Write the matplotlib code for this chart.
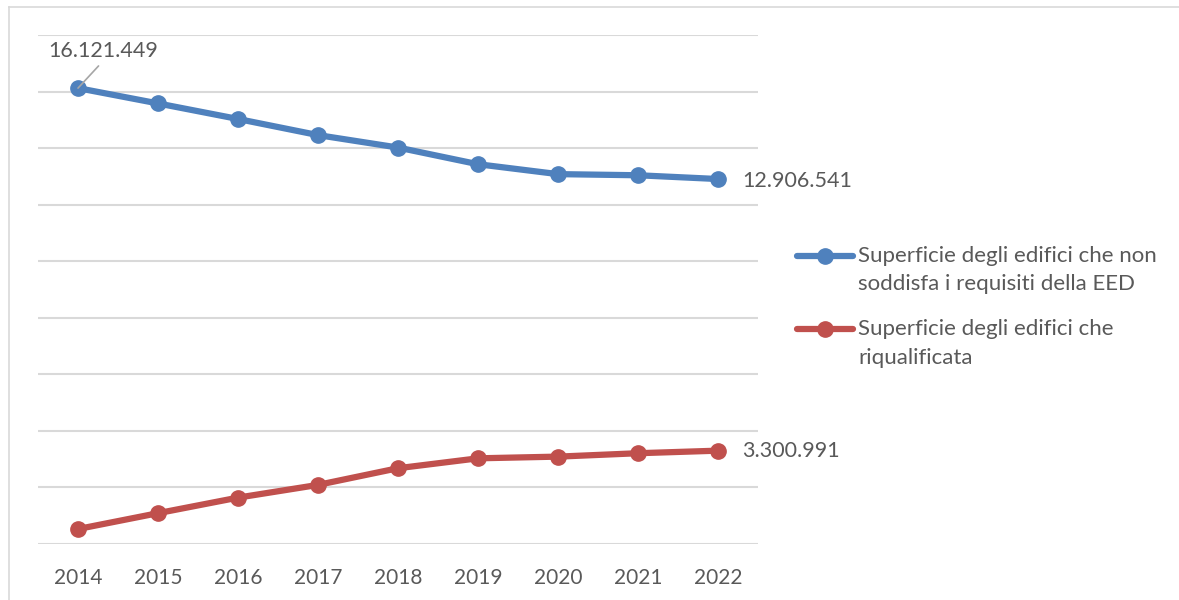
import matplotlib
matplotlib.use("Agg")
import matplotlib.pyplot as plt
from matplotlib.lines import Line2D

plt.rcParams['font.family'] = ['Lato', 'DejaVu Sans']

years = ['2014', '2015', '2016', '2017', '2018', '2019', '2020', '2021', '2022']
non_compliant = [16121449, 15580000, 15030000, 14460000, 14020000, 13430000, 13080000, 13040000, 12906541]
renovated = [530000, 1090000, 1640000, 2090000, 2680000, 3030000, 3090000, 3210000, 3300991]
series_names = ['Superficie degli edifici che non\nsoddisfa i requisiti della EED',
                'Superficie degli edifici che\nriqualificata']

blue = '#4f81bd'
red = '#c0504d'
text_col = '#595959'
grid_col = '#d9d9d9'
W, H = 1179, 600

fig = plt.figure(figsize=(W / 100, H / 100), dpi=100)
ax = fig.add_axes([38 / W, 56 / H, 720 / W, 509 / H])

x = list(range(len(years)))
ax.plot(x, non_compliant, color=blue, lw=4.5, marker='o', ms=11, solid_capstyle='round', zorder=3)
ax.plot(x, renovated, color=red, lw=4.5, marker='o', ms=11, solid_capstyle='round', zorder=3)

ax.set_xlim(-0.5, len(years) - 0.5)
ax.set_ylim(0, 18000000)
ax.set_yticks(range(0, 18000001, 2000000))
ax.yaxis.grid(True, color=grid_col, lw=1.5)
ax.set_axisbelow(True)
for s in ax.spines.values():
    s.set_visible(False)
ax.tick_params(axis='y', left=False, labelleft=False)
ax.tick_params(axis='x', length=0, pad=17, labelsize=15, labelcolor=text_col)
ax.set_xticks(x)
ax.set_xticklabels(years)


def fmt(v):
    return f"{v:,}".replace(',', '.')


# value labels
ax.annotate(fmt(non_compliant[0]), xy=(x[0], non_compliant[0]), xytext=(25, 37),
            textcoords='offset pixels', fontsize=15.5, color=text_col, ha='center', va='center',
            arrowprops=dict(arrowstyle='-', color='#a6a6a6', lw=1.2, shrinkA=2, shrinkB=0,
                            relpos=(0.5, 0)))
ax.annotate(fmt(non_compliant[-1]), xy=(x[-1], non_compliant[-1]), xytext=(24, -2),
            textcoords='offset pixels', fontsize=15.5, color=text_col, ha='left', va='center')
ax.annotate(fmt(renovated[-1]), xy=(x[-1], renovated[-1]), xytext=(24, 0),
            textcoords='offset pixels', fontsize=15.5, color=text_col, ha='left', va='center')

# legend: handle aligned with the first line of each wrapped label
legend_rows = [(blue, 256), (red, 329)]
for (col, yp), name in zip(legend_rows, series_names):
    yf = 1 - yp / H
    fig.add_artist(Line2D([797 / W, 853 / W], [yf, yf], color=col, lw=4.5,
                          solid_capstyle='round', transform=fig.transFigure))
    fig.add_artist(Line2D([825 / W], [yf], color=col, marker='o', ms=11, lw=0,
                          transform=fig.transFigure))
    for i, line in enumerate(name.split('\n')):
        fig.text(858 / W, 1 - (yp + i * 28.5) / H, line, fontsize=16, color=text_col,
                 ha='left', va='center')

# chart border
fig.add_artist(Line2D([8.5 / W, 8.5 / W], [0, 1 - 6.5 / H], color=grid_col, lw=1.2,
                      transform=fig.transFigure))
fig.add_artist(Line2D([8.5 / W, 1], [1 - 6.5 / H, 1 - 6.5 / H], color=grid_col, lw=1.2,
                      transform=fig.transFigure))

fig.savefig('out.png', dpi=100, facecolor='white')
